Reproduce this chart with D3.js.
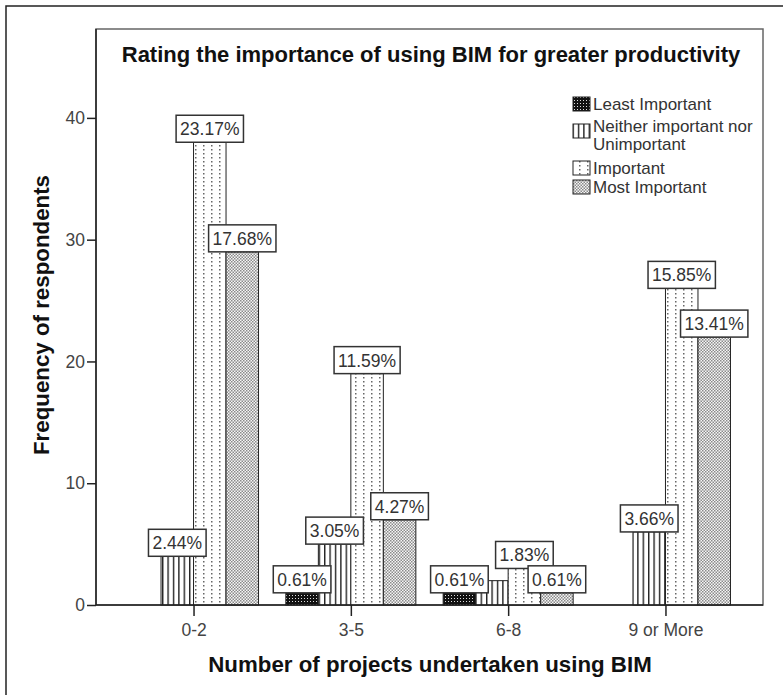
<!DOCTYPE html>
<html>
<head>
<meta charset="utf-8">
<script src="https://cdn.jsdelivr.net/npm/d3@7"></script>
<style>
  body { margin: 0; background: #fff; }
  text { font-family: "Liberation Sans", Arial, sans-serif; }
</style>
</head>
<body>
<div id="chart"></div>
<script>
const width = 783;
const height = 695;

const categories = ['0-2', '3-5', '6-8', '9 or More'];
const seriesNames = ['Least Important', 'Neither important nor Unimportant', 'Important', 'Most Important'];
const leastImportant = [0, 1, 1, 0];
const neitherImportant = [4, 5, 2, 6];
const important = [38, 19, 3, 26];
const mostImportant = [29, 7, 1, 22];
const leastLabels = ['', '0.61%', '0.61%', ''];
const neitherLabels = ['2.44%', '3.05%', '', '3.66%'];
const importantLabels = ['23.17%', '11.59%', '1.83%', '15.85%'];
const mostLabels = ['17.68%', '4.27%', '0.61%', '13.41%'];
const yTicks = [0, 10, 20, 30, 40];

const seriesValues = [leastImportant, neitherImportant, important, mostImportant];
const seriesLabels = [leastLabels, neitherLabels, importantLabels, mostLabels];
const patternIds = ['p-least', 'p-neither', 'p-important', 'p-most'];

const plot = {left: 96, right: 763, top: 29, bottom: 605};

const svg = d3.select('#chart').append('svg').attr('width', width).attr('height', height);

// patterns
const defs = svg.append('defs');
let p = defs.append('pattern').attr('id', 'p-least').attr('patternUnits', 'userSpaceOnUse').attr('width', 3).attr('height', 3);
p.append('rect').attr('width', 3).attr('height', 3).attr('fill', '#111');
p.append('rect').attr('x', 1).attr('y', 1).attr('width', 1).attr('height', 1).attr('fill', '#ddd');

p = defs.append('pattern').attr('id', 'p-neither').attr('patternUnits', 'userSpaceOnUse').attr('width', 5.4).attr('height', 4);
p.append('rect').attr('width', 5.4).attr('height', 4).attr('fill', '#fff');
p.append('rect').attr('x', 0).attr('width', 1.4).attr('height', 4).attr('fill', '#222');

p = defs.append('pattern').attr('id', 'p-important').attr('patternUnits', 'userSpaceOnUse').attr('width', 8).attr('height', 4);
p.append('rect').attr('width', 8).attr('height', 4).attr('fill', '#fff');
p.append('rect').attr('x', 3).attr('y', 1).attr('width', 1.5).attr('height', 1.5).attr('fill', '#666');

p = defs.append('pattern').attr('id', 'p-most').attr('patternUnits', 'userSpaceOnUse').attr('width', 3).attr('height', 3);
p.append('rect').attr('width', 3).attr('height', 3).attr('fill', '#f6f6f6');
p.append('rect').attr('x', 0).attr('y', 0).attr('width', 1.5).attr('height', 1.5).attr('fill', '#8a8a8a');
p.append('rect').attr('x', 1.5).attr('y', 1.5).attr('width', 1.5).attr('height', 1.5).attr('fill', '#8a8a8a');

// outer frame
svg.append('rect').attr('x', 6).attr('y', 6).attr('width', 800).attr('height', 720)
  .attr('fill', 'none').attr('stroke', '#222').attr('stroke-width', 1.5);

// plot box
svg.append('rect').attr('x', plot.left).attr('y', plot.top)
  .attr('width', plot.right - plot.left).attr('height', plot.bottom - plot.top)
  .attr('fill', '#fff').attr('stroke', '#666').attr('stroke-width', 1.5);

const x = d3.scalePoint().domain(categories).range([plot.left, plot.right]).padding(0.62);
const xInner = d3.scaleBand().domain(seriesNames).range([-65, 65]);
const y = d3.scaleLinear().domain([0, 47.3]).range([plot.bottom, plot.top]);

// bars
seriesNames.forEach((name, s) => {
  const points = seriesValues[s].map((v, i) => ({cat: categories[i], v: v})).filter(d => d.v > 0);
  svg.append('g').selectAll('rect')
    .data(points)
    .enter()
    .append('rect')
    .attr('x', d => x(d.cat) + xInner(name))
    .attr('y', d => y(d.v))
    .attr('width', xInner.bandwidth())
    .attr('height', d => y(0) - y(d.v))
    .attr('fill', `url(#${patternIds[s]})`)
    .attr('stroke', '#222')
    .attr('stroke-width', 1);
});

// axes
const yAxis = svg.append('g').attr('transform', `translate(${plot.left},0)`)
  .call(d3.axisLeft(y).tickValues(yTicks).tickSize(9).tickPadding(2));
const xAxis = svg.append('g').attr('transform', `translate(0,${plot.bottom})`)
  .call(d3.axisBottom(x).tickSize(11).tickPadding(8));
[yAxis, xAxis].forEach(a => {
  a.select('.domain').remove();
  a.selectAll('line').attr('stroke', '#222').attr('stroke-width', 1.5);
  a.selectAll('text').attr('font-size', 17.5).attr('fill', '#444')
    .attr('font-family', '"Liberation Sans", Arial, sans-serif');
});
svg.append('line').attr('x1', plot.left).attr('x2', plot.left).attr('y1', plot.top).attr('y2', plot.bottom)
  .attr('stroke', '#222').attr('stroke-width', 1.5);
svg.append('line').attr('x1', plot.left).attr('x2', plot.right).attr('y1', plot.bottom).attr('y2', plot.bottom)
  .attr('stroke', '#222').attr('stroke-width', 1.5);

// value labels
const labelLayer = svg.append('g');
seriesNames.forEach((name, s) => {
  seriesValues[s].forEach((v, i) => {
    const txt = seriesLabels[s][i];
    if (!txt) return;
    const cx = x(categories[i]) + xInner(name) + xInner.bandwidth() / 2;
    const g = labelLayer.append('g');
    const t = g.append('text').attr('x', cx).attr('y', y(v) - 7)
      .attr('text-anchor', 'middle').attr('font-size', 17.5).attr('fill', '#333').text(txt);
    const w = t.node().getComputedTextLength() + 8;
    g.insert('rect', 'text').attr('x', cx - w / 2).attr('y', y(v) - 27)
      .attr('width', w).attr('height', 27)
      .attr('fill', '#fff').attr('stroke', '#333').attr('stroke-width', 1.5);
  });
});

// titles
svg.append('text').attr('x', 431).attr('y', 62).attr('text-anchor', 'middle')
  .attr('font-size', 22).attr('font-weight', 'bold').attr('fill', '#111')
  .text('Rating the importance of using BIM for greater productivity');
svg.append('text').attr('x', 430).attr('y', 672).attr('text-anchor', 'middle')
  .attr('font-size', 22.3).attr('font-weight', 'bold').attr('fill', '#111')
  .text('Number of projects undertaken using BIM');
svg.append('text').attr('transform', 'translate(49,315) rotate(-90)').attr('text-anchor', 'middle')
  .attr('font-size', 22.3).attr('font-weight', 'bold').attr('fill', '#111')
  .text('Frequency of respondents');

// legend
const legendRows = [
  {lines: ['Least Important'], y: 110},
  {lines: ['Neither important nor', 'Unimportant'], y: 132},
  {lines: ['Important'], y: 174},
  {lines: ['Most Important'], y: 193}
];
const legend = svg.append('g');
legendRows.forEach((row, s) => {
  legend.append('rect').attr('x', 573).attr('y', row.y - 13 + (row.lines.length > 1 ? 5 : 0))
    .attr('width', 17).attr('height', 14)
    .attr('fill', `url(#${patternIds[s]})`).attr('stroke', '#222').attr('stroke-width', 1);
  row.lines.forEach((line, k) => {
    legend.append('text').attr('x', 593).attr('y', row.y + k * 18)
      .attr('font-size', 17).attr('fill', '#333').text(line);
  });
});
</script>
</body>
</html>
